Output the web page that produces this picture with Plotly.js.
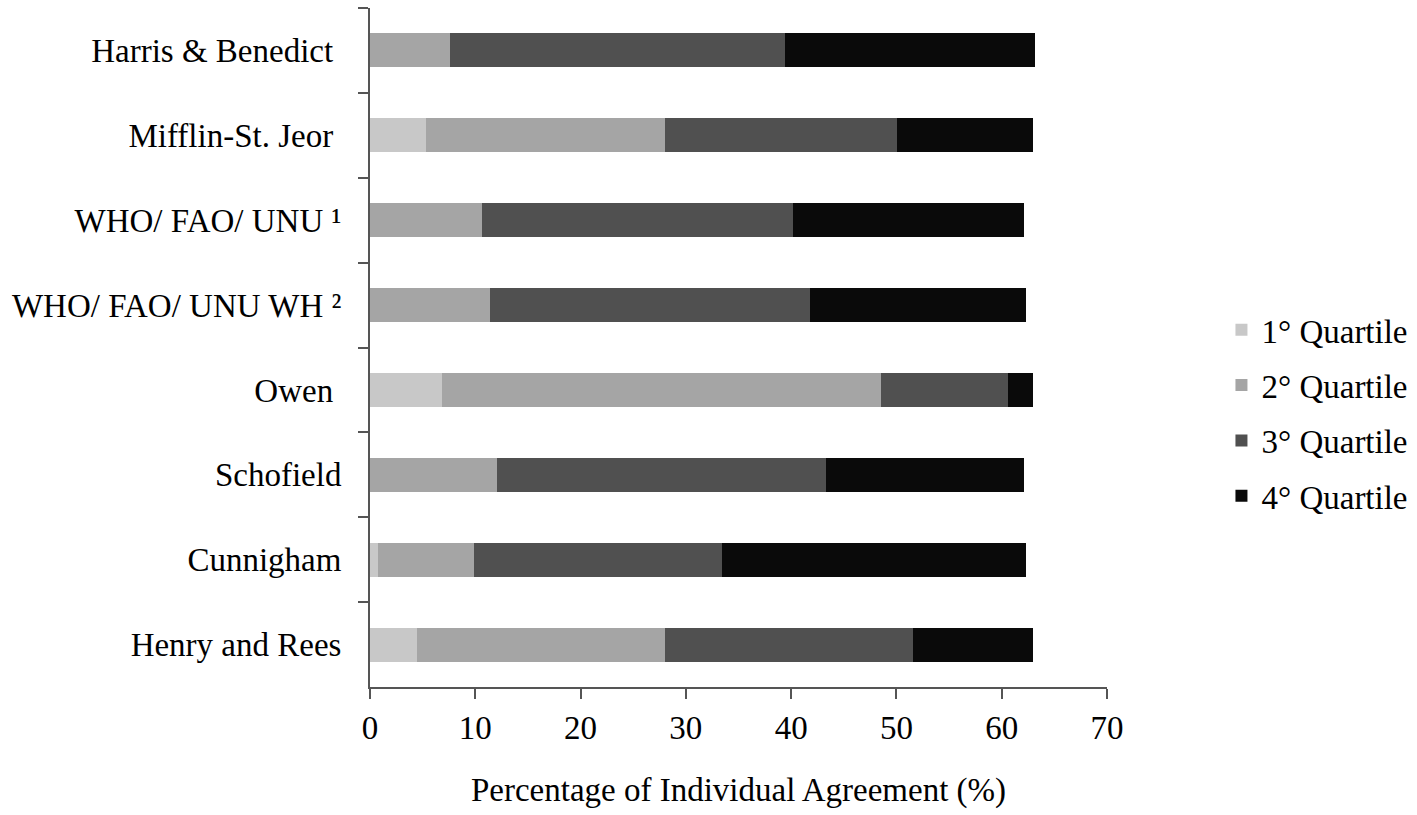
<!DOCTYPE html>
<html>
<head>
<meta charset="utf-8">
<script src="https://cdn.plot.ly/plotly-3.0.1.min.js"></script>
<style>
  html, body { margin: 0; padding: 0; background: #fff; }
  #plot { width: 1417px; height: 815px; }
</style>
</head>
<body>
<div id="plot"></div>
<script>
// equations, top to bottom
var equations = [
  "Harris & Benedict ",
  "Mifflin-St. Jeor ",
  "WHO/ FAO/ UNU \u00b9",
  "WHO/ FAO/ UNU WH \u00b2",
  "Owen ",
  "Schofield",
  "Cunnigham",
  "Henry and Rees"
];

// share of individual agreement per quartile (%)
var q1 = [0, 5.3, 0, 0, 6.8, 0, 0.8, 4.5];
var q2 = [7.6, 22.7, 10.6, 11.4, 41.7, 12.1, 9.1, 23.5];
var q3 = [31.8, 22.1, 29.6, 30.4, 12.1, 31.2, 23.5, 23.6];
var q4 = [23.8, 12.9, 21.9, 20.5, 2.4, 18.8, 28.9, 11.4];

var quartileNames = ["1\u00b0 Quartile", "2\u00b0 Quartile", "3\u00b0 Quartile", "4\u00b0 Quartile"];
var quartileColors = ["#c8c8c8", "#a5a5a5", "#505050", "#0a0a0a"];

var serif = "Liberation Serif, Times New Roman, serif";

var traces = [q1, q2, q3, q4].map(function (vals, i) {
  return {
    type: "bar",
    orientation: "h",
    x: vals,
    y: equations,
    name: quartileNames[i],
    legendgroup: "q" + i,
    marker: { color: quartileColors[i], line: { width: 0 } },
    hoverinfo: "x+name"
  };
});

var layout = {
  barmode: "stack",
  bargap: 0.6,
  width: 1417,
  height: 815,
  margin: { l: 370, r: 310, t: 8, b: 128, autoexpand: false },
  paper_bgcolor: "#fff",
  plot_bgcolor: "#fff",
  font: { family: serif, size: 33, color: "#000" },
  showlegend: true,
  legend: {
    xref: "container",
    x: 0.862,
    xanchor: "left",
    yref: "container",
    y: 0.493,
    yanchor: "middle",
    traceorder: "grouped",
    tracegroupgap: 9.5,
    itemwidth: 30,
    font: { family: serif, size: 33, color: "#000" }
  },
  xaxis: {
    range: [0, 70],
    dtick: 10,
    showgrid: false,
    zeroline: false,
    showline: true,
    linecolor: "#555",
    linewidth: 2,
    ticks: "outside",
    ticklen: 10,
    tickwidth: 2,
    tickcolor: "#555",
    tickfont: { family: serif, size: 33, color: "#000" },
    title: {
      text: "Percentage of Individual Agreement (%)",
      font: { family: serif, size: 33, color: "#000" },
      standoff: 33
    }
  },
  yaxis: {
    autorange: "reversed",
    showgrid: false,
    zeroline: false,
    showline: true,
    linecolor: "#555",
    linewidth: 2,
    ticks: "outside",
    tickson: "boundaries",
    ticklen: 10,
    tickwidth: 2,
    tickcolor: "#555",
    ticklabelstandoff: 20,
    tickfont: { family: serif, size: 33, color: "#000" }
  }
};

Plotly.newPlot("plot", traces, layout, { displayModeBar: false });
</script>
</body>
</html>
